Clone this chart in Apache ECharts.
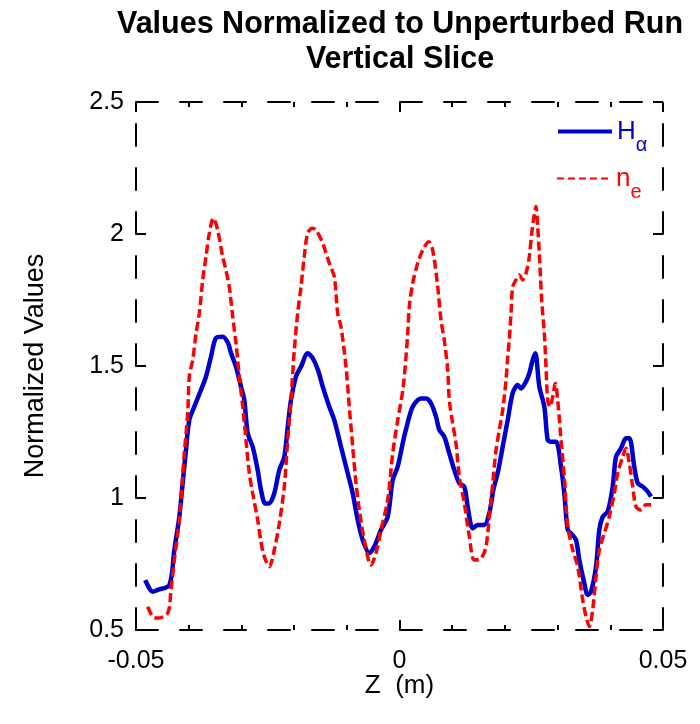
<!DOCTYPE html>
<html>
<head>
<meta charset="utf-8">
<script src="https://cdn.jsdelivr.net/npm/echarts@6/dist/echarts.min.js"></script>
<style>
  html, body { margin: 0; padding: 0; background: #fff; }
  #chart { width: 700px; height: 724px; }
</style>
</head>
<body>
<div id="chart"></div>
<script>
// Vertical slice through the perturbed run, each quantity divided by the unperturbed run.
// Position along Z (m) and normalized H-alpha emission
const zH = [
  -0.04824, -0.04683, -0.04588, -0.04368, -0.04273, -0.04178, -0.04114, -0.04051, -0.03989, -0.03894,
  -0.03767, -0.03672, -0.03577, -0.03482, -0.03355, -0.03254, -0.03197, -0.03102, -0.03008, -0.02945,
  -0.02880, -0.02786, -0.02691, -0.02628, -0.02547, -0.02471, -0.02376, -0.02281, -0.02186, -0.02121,
  -0.02059, -0.01964, -0.01869, -0.01742, -0.01647, -0.01547, -0.01457, -0.01332, -0.01237, -0.01110,
  -0.00983, -0.00888, -0.00793, -0.00698, -0.00573, -0.00478, -0.00351, -0.00224, -0.00129, -0.00034,
  0.00061, 0.00123, 0.00250, 0.00408, 0.00503, 0.00598, 0.00693, 0.00755, 0.00850, 0.00945,
  0.01040, 0.01135, 0.01230, 0.01294, 0.01389, 0.01484, 0.01609, 0.01704, 0.01780, 0.01869,
  0.01958, 0.02053, 0.02148, 0.02243, 0.02306, 0.02400, 0.02463, 0.02528, 0.02577, 0.02653,
  0.02748, 0.02812, 0.02875, 0.02970, 0.03065, 0.03127, 0.03192, 0.03254, 0.03349, 0.03412,
  0.03507, 0.03571, 0.03634, 0.03729, 0.03791, 0.03856, 0.03951, 0.04046, 0.04108, 0.04203,
  0.04298, 0.04361, 0.04455, 0.04520, 0.04615, 0.04710, 0.04772
];
const hAlpha = [
  0.689, 0.645, 0.652, 0.670, 0.803, 0.929, 1.057, 1.182, 1.295, 1.346,
  1.409, 1.460, 1.535, 1.606, 1.611, 1.587, 1.549, 1.497, 1.422, 1.371,
  1.246, 1.194, 1.106, 1.030, 0.979, 0.980, 1.018, 1.106, 1.156, 1.270,
  1.371, 1.460, 1.497, 1.548, 1.530, 1.485, 1.422, 1.346, 1.295, 1.194,
  1.094, 1.018, 0.917, 0.841, 0.791, 0.816, 0.879, 0.929, 1.068, 1.119,
  1.207, 1.260, 1.346, 1.377, 1.377, 1.359, 1.308, 1.258, 1.232, 1.169,
  1.106, 1.056, 1.043, 0.967, 0.885, 0.898, 0.898, 0.942, 1.030, 1.100,
  1.194, 1.295, 1.397, 1.428, 1.415, 1.441, 1.472, 1.523, 1.548, 1.422,
  1.346, 1.220, 1.213, 1.213, 1.119, 1.018, 0.879, 0.866, 0.841, 0.765,
  0.677, 0.633, 0.645, 0.740, 0.879, 0.929, 0.949, 1.043, 1.156, 1.188,
  1.226, 1.226, 1.119, 1.056, 1.043, 1.024, 1.005
];

// Position along Z (m) and normalized electron density
const zNe = [
  -0.04778, -0.04683, -0.04588, -0.04398, -0.04336, -0.04273, -0.04178, -0.04084, -0.04019, -0.03989,
  -0.03924, -0.03861, -0.03799, -0.03734, -0.03672, -0.03609, -0.03533, -0.03450, -0.03355, -0.03292,
  -0.03230, -0.03165, -0.03102, -0.03040, -0.02975, -0.02913, -0.02850, -0.02786, -0.02691, -0.02628,
  -0.02566, -0.02471, -0.02376, -0.02281, -0.02186, -0.02121, -0.02059, -0.01996, -0.01932, -0.01869,
  -0.01807, -0.01742, -0.01647, -0.01584, -0.01457, -0.01332, -0.01237, -0.01173, -0.01110, -0.01015,
  -0.00953, -0.00888, -0.00825, -0.00763, -0.00668, -0.00541, -0.00446, -0.00351, -0.00224, -0.00129,
  -0.00034, 0.00072, 0.00156, 0.00186, 0.00250, 0.00345, 0.00440, 0.00554, 0.00630, 0.00725,
  0.00787, 0.00850, 0.00915, 0.00945, 0.01009, 0.01072, 0.01135, 0.01230, 0.01325, 0.01419,
  0.01546, 0.01641, 0.01704, 0.01769, 0.01831, 0.01894, 0.01958, 0.02021, 0.02053, 0.02083,
  0.02116, 0.02148, 0.02211, 0.02273, 0.02338, 0.02400, 0.02463, 0.02509, 0.02546, 0.02590,
  0.02622, 0.02653, 0.02698, 0.02748, 0.02780, 0.02812, 0.02856, 0.02907, 0.02956, 0.03002,
  0.03065, 0.03127, 0.03192, 0.03287, 0.03381, 0.03476, 0.03539, 0.03602, 0.03666, 0.03729,
  0.03791, 0.03886, 0.03981, 0.04076, 0.04140, 0.04235, 0.04298, 0.04361, 0.04425, 0.04488,
  0.04583, 0.04677, 0.04772
];
const nE = [
  0.588, 0.551, 0.545, 0.564, 0.652, 0.765, 0.917, 1.169, 1.320, 1.460,
  1.523, 1.624, 1.700, 1.826, 1.914, 2.003, 2.060, 2.015, 1.914, 1.862,
  1.800, 1.687, 1.586, 1.460, 1.346, 1.220, 1.094, 1.018, 0.917, 0.833,
  0.778, 0.740, 0.803, 0.904, 1.043, 1.220, 1.371, 1.561, 1.700, 1.800,
  1.914, 2.003, 2.022, 2.015, 1.965, 1.889, 1.838, 1.700, 1.649, 1.497,
  1.346, 1.194, 1.056, 0.955, 0.841, 0.746, 0.791, 0.879, 0.992, 1.169,
  1.295, 1.422, 1.624, 1.725, 1.813, 1.889, 1.939, 1.971, 1.939, 1.800,
  1.674, 1.598, 1.485, 1.371, 1.283, 1.207, 1.081, 0.980, 0.854, 0.765,
  0.771, 0.816, 0.929, 1.056, 1.180, 1.258, 1.333, 1.447, 1.535, 1.598,
  1.700, 1.800, 1.826, 1.845, 1.826, 1.851, 1.914, 2.003, 2.060, 2.104,
  2.028, 1.927, 1.750, 1.624, 1.497, 1.371, 1.346, 1.384, 1.434, 1.371,
  1.220, 1.081, 0.892, 0.803, 0.740, 0.614, 0.551, 0.513, 0.576, 0.702,
  0.803, 0.866, 0.929, 1.018, 1.094, 1.156, 1.188, 1.131, 1.043, 0.967,
  0.955, 0.974, 0.974
];

// Axis ranges and tick spacing
const zRange = [-0.05, 0.05];
const zMajorStep = 0.05;
const valueRange = [0.5, 2.5];
const valueStep = 0.5;

const FONT = 'Liberation Sans, Arial, Helvetica, sans-serif';
const BLUE = '#0000cc';
const RED = '#ff0000';

const pair = (xs, ys) => xs.map((x, i) => [x, ys[i]]);

const frameLine = { color: '#000', width: 2, type: [22, 22] };
const tickStyle = { color: '#000', width: 2 };

function zLabel(v) {
  if (Math.abs(v) < 1e-9) return '0';
  return String(+v.toFixed(2));
}

function xAxisCfg(position, withLabels) {
  return {
    type: 'value', position,
    min: zRange[0], max: zRange[1], interval: zMajorStep,
    axisLine: { show: true, onZero: false, lineStyle: frameLine },
    axisTick: { show: true, inside: true, length: 10, lineStyle: tickStyle },
    minorTick: { show: true, splitNumber: 5, length: 5, lineStyle: tickStyle },
    axisLabel: {
      show: withLabels, margin: 19, color: '#000', fontFamily: FONT, fontSize: 25,
      formatter: zLabel
    },
    splitLine: { show: false },
    name: withLabels ? 'Z  (m)' : '',
    nameLocation: 'middle', nameGap: 43, nameMoveOverlap: false,
    nameTextStyle: { color: '#000', fontFamily: FONT, fontSize: 26 }
  };
}

function yAxisCfg(position, withLabels) {
  return {
    type: 'value', position,
    min: valueRange[0], max: valueRange[1], interval: valueStep,
    axisLine: { show: true, onZero: false, lineStyle: frameLine },
    axisTick: { show: true, inside: true, length: 10, lineStyle: tickStyle },
    axisLabel: {
      show: withLabels, margin: 12, color: '#000', fontFamily: FONT, fontSize: 25,
      formatter: v => String(+v.toFixed(1))
    },
    splitLine: { show: false },
    name: withLabels ? 'Normalized Values' : '',
    nameLocation: 'middle', nameGap: 87, nameRotate: 90, nameMoveOverlap: false,
    nameTextStyle: { color: '#000', fontFamily: FONT, fontSize: 27 }
  };
}

// Legend entries: main letter plus lowered subscript
const legendRich = {
  hm: { fontSize: 26, fontFamily: FONT, color: BLUE, lineHeight: 26 },
  hs: { fontSize: 20, fontFamily: FONT, color: BLUE, lineHeight: 20, padding: [27, 0, 0, 0] },
  nm: { fontSize: 26, fontFamily: FONT, color: RED, lineHeight: 26 },
  ns: { fontSize: 20, fontFamily: FONT, color: RED, lineHeight: 20, padding: [27, 0, 0, 0] }
};

function legendCfg(name, top, text, lineStyle) {
  return {
    data: [name], left: 556, top, padding: 0,
    itemWidth: 54, itemHeight: 14, itemGap: 0, selectedMode: false,
    formatter: () => text,
    itemStyle: { opacity: 0, color: 'transparent', borderWidth: 0 },
    lineStyle,
    textStyle: { rich: legendRich }
  };
}

const chart = echarts.init(document.getElementById('chart'), null, { renderer: 'canvas' });
chart.setOption({
  backgroundColor: '#fff',
  animation: false,
  title: {
    text: 'Values Normalized to Unperturbed Run\nVertical Slice',
    left: 395, top: 2, textAlign: 'center',
    textStyle: { fontFamily: FONT, fontSize: 30.5, fontWeight: 'bold', color: '#000', lineHeight: 35 }
  },
  legend: [
    legendCfg('Ha', 108, '{hm|H}{hs|α}', { width: 4, color: BLUE }),
    legendCfg('ne', 155, '{nm|n}{ns|e}', { width: 2, color: RED, type: [7, 4] })
  ],
  grid: { left: 136, right: 37, top: 102, bottom: 94, containLabel: false },
  xAxis: [xAxisCfg('bottom', true), xAxisCfg('top', false)],
  yAxis: [yAxisCfg('left', true), yAxisCfg('right', false)],
  series: [
    {
      name: 'Ha', type: 'line', xAxisIndex: 0, yAxisIndex: 0,
      data: pair(zH, hAlpha), showSymbol: false, symbol: 'none', smooth: 0.3,
      lineStyle: { color: BLUE, width: 4.5 }, itemStyle: { color: BLUE },
      z: 2
    },
    {
      name: 'ne', type: 'line', xAxisIndex: 0, yAxisIndex: 0,
      data: pair(zNe, nE), showSymbol: false, symbol: 'none', smooth: 0.3,
      lineStyle: { color: RED, width: 3.5, type: [9, 4] }, itemStyle: { color: RED },
      z: 3
    }
  ]
});
</script>
</body>
</html>
